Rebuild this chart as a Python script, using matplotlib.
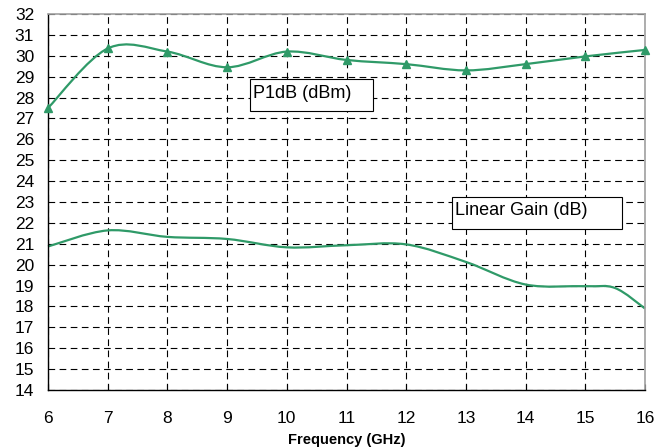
import matplotlib.pyplot as plt
from matplotlib.path import Path
from matplotlib.patches import PathPatch, Rectangle

plt.rcParams["font.family"] = ["Liberation Sans", "DejaVu Sans"]

freq = [6, 7, 8, 9, 10, 11, 12, 13, 14, 15, 16]
p1db = [27.5, 30.35, 30.2, 29.45, 30.2, 29.8, 29.6, 29.3, 29.6, 29.97, 30.28]
gain_freq = [6, 7, 8, 9, 10, 11, 12, 13, 14, 15, 15.5, 16]
gain = [20.87, 21.64, 21.33, 21.23, 20.83, 20.93, 20.97, 20.13, 19.05,
        18.97, 18.88, 17.9]
x_ticks = list(range(6, 17))
y_ticks = list(range(14, 33))

GREEN = "#2f9a68"


def smooth_path(xs, ys):
    # cubic Bezier segments through every point (spreadsheet-style smoothed line)
    pts = list(zip(xs, ys))
    n = len(pts)
    verts = [pts[0]]
    codes = [Path.MOVETO]
    for i in range(n - 1):
        p0 = pts[max(i - 1, 0)]
        p1 = pts[i]
        p2 = pts[i + 1]
        p3 = pts[min(i + 2, n - 1)]
        c1 = (p1[0] + (p2[0] - p0[0]) / 6, p1[1] + (p2[1] - p0[1]) / 6)
        c2 = (p2[0] - (p3[0] - p1[0]) / 6, p2[1] - (p3[1] - p1[1]) / 6)
        verts += [c1, c2, p2]
        codes += [Path.CURVE4] * 3
    return Path(verts, codes)


fig = plt.figure(figsize=(6.61, 4.47), dpi=100)
ax = fig.add_axes([48 / 661, 1 - 390 / 447, 597 / 661, 376 / 447])

ax.set_xlim(6, 16)
ax.set_ylim(14, 32)
ax.set_xticks(x_ticks)
ax.set_yticks(y_ticks)
ax.tick_params(axis="y", length=0, labelsize=12.5, pad=10)
ax.tick_params(axis="x", direction="in", length=4, width=0.8,
               labelsize=12.5, pad=15)

ax.grid(True, color="black", linewidth=0.8, linestyle=(0, (6, 4)))
ax.set_axisbelow(True)

for side in ("top", "right"):
    ax.spines[side].set_color("#a0a0a0")
    ax.spines[side].set_linewidth(1.2)
for side in ("left", "bottom"):
    ax.spines[side].set_color("black")
    ax.spines[side].set_linewidth(1.0)

ax.add_patch(PathPatch(smooth_path(freq, p1db), fill=False, edgecolor=GREEN,
                       linewidth=1.6, clip_on=False))
ax.plot(freq, p1db, linestyle="none", marker="^", markersize=6,
        color=GREEN, clip_on=False, zorder=3)
ax.add_patch(PathPatch(smooth_path(gain_freq, gain), fill=False,
                       edgecolor=GREEN, linewidth=1.6, clip_on=False))

# series label boxes
ax.add_patch(Rectangle((9.383, 27.36), 2.06, 1.53, facecolor="white",
                       edgecolor="black", linewidth=0.8, zorder=4))
ax.text(9.44, 27.98, "P1dB (dBm)", fontsize=13, ha="left", va="baseline",
        zorder=5)
ax.add_patch(Rectangle((12.767, 21.71), 2.85, 1.53, facecolor="white",
                       edgecolor="black", linewidth=0.8, zorder=4))
ax.text(12.82, 22.38, "Linear Gain (dB)", fontsize=13, ha="left",
        va="baseline", zorder=5)

ax.set_xlabel("Frequency (GHz)", fontsize=10.5, fontweight="bold",
              labelpad=5)

fig.savefig("out.png", dpi=100)
plt.close(fig)
